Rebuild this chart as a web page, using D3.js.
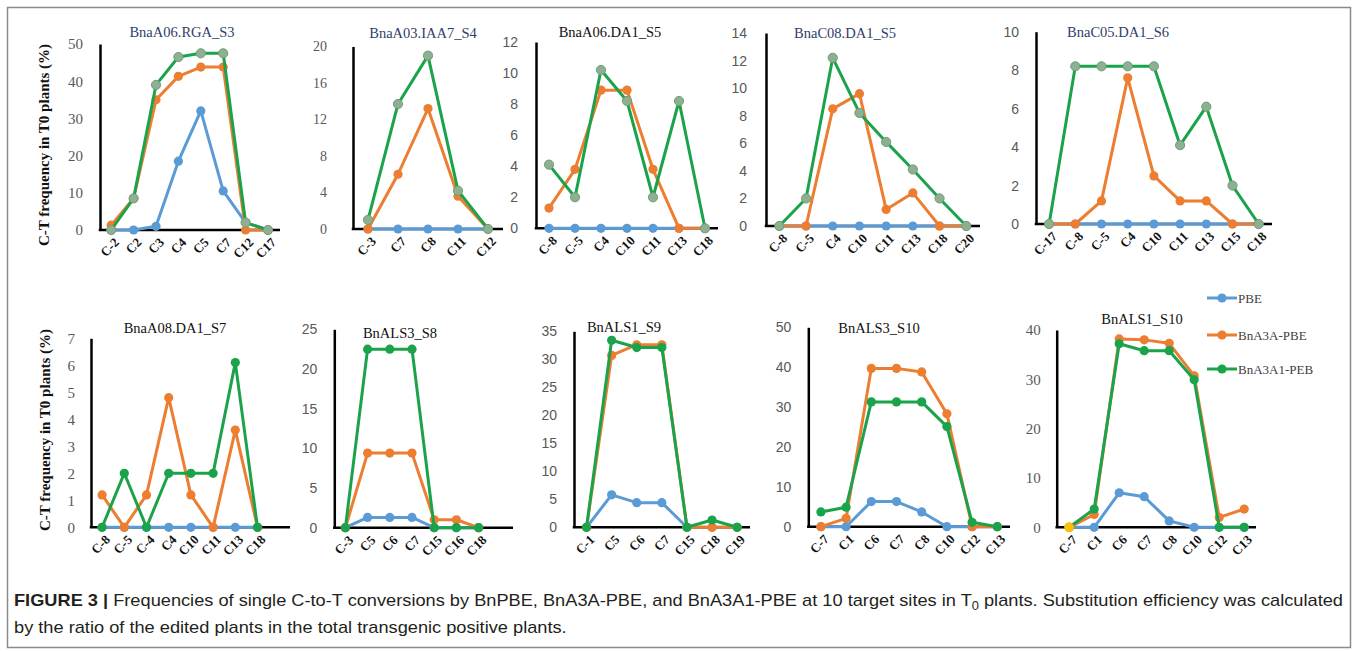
<!DOCTYPE html>
<html>
<head>
<meta charset="utf-8">
<script src="https://cdn.jsdelivr.net/npm/d3@7"></script>
<style>
  html, body { margin: 0; padding: 0; background: #fff; }
  svg { display: block; }
</style>
</head>
<body>
<script>
// ---------------- DATA ----------------
const seriesNames = ["PBE", "BnA3A-PBE", "BnA3A1-PEB"];

const S3_sites = ["C-2","C2","C3","C4","C5","C7","C12","C17"];
const S3_PBE   = [0, 0, 1.0, 18.5, 32.0, 10.5, 2.0, 0];
const S3_A3A   = [1.3, 8.5, 35.0, 41.3, 43.8, 43.8, 0, 0];
const S3_A3A1  = [0, 8.5, 39.0, 46.5, 47.5, 47.5, 2.0, 0];
const S3_ticks = [0, 10, 20, 30, 40, 50];

const S4_sites = ["C-3","C7","C8","C11","C12"];
const S4_PBE   = [0, 0, 0, 0, 0];
const S4_A3A   = [0, 6.0, 13.2, 3.6, 0];
const S4_A3A1  = [1.0, 13.7, 19.0, 4.2, 0];
const S4_ticks = [0, 4, 8, 12, 16, 20];

const S5a_sites = ["C-8","C-5","C4","C10","C11","C13","C18"];
const S5a_PBE   = [0, 0, 0, 0, 0, 0, 0];
const S5a_A3A   = [1.3, 3.8, 8.9, 8.9, 3.8, 0, 0];
const S5a_A3A1  = [4.1, 2.0, 10.2, 8.2, 2.0, 8.2, 0];
const S5a_ticks = [0, 2, 4, 6, 8, 10, 12];

const S5b_sites = ["C-8","C-5","C4","C10","C11","C13","C18","C20"];
const S5b_PBE   = [0, 0, 0, 0, 0, 0, 0, 0];
const S5b_A3A   = [0, 0, 8.5, 9.6, 1.2, 2.4, 0, 0];
const S5b_A3A1  = [0, 2.0, 12.2, 8.2, 6.1, 4.1, 2.0, 0];
const S5b_ticks = [0, 2, 4, 6, 8, 10, 12, 14];

const S6_sites = ["C-17","C-8","C-5","C4","C10","C11","C13","C15","C18"];
const S6_PBE   = [0, 0, 0, 0, 0, 0, 0, 0, 0];
const S6_A3A   = [0, 0, 1.2, 7.6, 2.5, 1.2, 1.2, 0, 0];
const S6_A3A1  = [0, 8.2, 8.2, 8.2, 8.2, 4.1, 6.1, 2.0, 0];
const S6_ticks = [0, 2, 4, 6, 8, 10];

const S7_sites = ["C-8","C-5","C-4","C4","C10","C11","C13","C18"];
const S7_PBE   = [0, 0, 0, 0, 0, 0, 0, 0];
const S7_A3A   = [1.2, 0, 1.2, 4.8, 1.2, 0, 3.6, 0];
const S7_A3A1  = [0, 2.0, 0, 2.0, 2.0, 2.0, 6.1, 0];
const S7_ticks = [0, 1, 2, 3, 4, 5, 6, 7];

const S8_sites = ["C-3","C5","C6","C7","C15","C16","C18"];
const S8_PBE   = [0, 1.3, 1.3, 1.3, 0, 0, 0];
const S8_A3A   = [0, 9.4, 9.4, 9.4, 1.0, 1.0, 0];
const S8_A3A1  = [0, 22.5, 22.5, 22.5, 0, 0, 0];
const S8_ticks = [0, 5, 10, 15, 20, 25];

const S9_sites = ["C-1","C5","C6","C7","C15","C18","C19"];
const S9_PBE   = [0, 5.8, 4.4, 4.4, 0, 0, 0];
const S9_A3A   = [0, 30.7, 32.6, 32.6, 0, 0, 0];
const S9_A3A1  = [0, 33.4, 32.1, 32.1, 0, 1.3, 0];
const S9_ticks = [0, 5, 10, 15, 20, 25, 30, 35];

const S10a_sites = ["C-7","C1","C6","C7","C8","C10","C12","C13"];
const S10a_PBE   = [0, 0, 6.3, 6.3, 3.7, 0, 0, 0];
const S10a_A3A   = [0, 2.1, 39.7, 39.7, 38.8, 28.3, 0, 0];
const S10a_A3A1  = [3.7, 4.9, 31.3, 31.3, 31.3, 25.1, 1.1, 0];
const S10a_ticks = [0, 10, 20, 30, 40, 50];

const S10b_sites = ["C-7","C1","C6","C7","C8","C10","C12","C13"];
const S10b_PBE   = [0, 0, 7.0, 6.2, 1.3, 0, 0, 0];
const S10b_A3A   = [0, 2.6, 38.2, 38.0, 37.3, 30.7, 2.0, 3.7];
const S10b_A3A1  = [0, 3.7, 37.2, 35.8, 35.8, 29.9, 0, 0];
const S10b_ticks = [0, 10, 20, 30, 40];

const titles = ["BnaA06.RGA_S3","BnaA03.IAA7_S4","BnaA06.DA1_S5","BnaC08.DA1_S5","BnaC05.DA1_S6",
                "BnaA08.DA1_S7","BnALS3_S8","BnALS1_S9","BnALS3_S10","BnALS1_S10"];

const yAxisLabel = "C-T frequency in T0 plants (%)";

const panels = [
  {sites: S3_sites,  vals: [S3_PBE,  S3_A3A,  S3_A3A1],  ticks: S3_ticks},
  {sites: S4_sites,  vals: [S4_PBE,  S4_A3A,  S4_A3A1],  ticks: S4_ticks},
  {sites: S5a_sites, vals: [S5a_PBE, S5a_A3A, S5a_A3A1], ticks: S5a_ticks},
  {sites: S5b_sites, vals: [S5b_PBE, S5b_A3A, S5b_A3A1], ticks: S5b_ticks},
  {sites: S6_sites,  vals: [S6_PBE,  S6_A3A,  S6_A3A1],  ticks: S6_ticks},
  {sites: S7_sites,  vals: [S7_PBE,  S7_A3A,  S7_A3A1],  ticks: S7_ticks},
  {sites: S8_sites,  vals: [S8_PBE,  S8_A3A,  S8_A3A1],  ticks: S8_ticks},
  {sites: S9_sites,  vals: [S9_PBE,  S9_A3A,  S9_A3A1],  ticks: S9_ticks},
  {sites: S10a_sites,vals: [S10a_PBE,S10a_A3A,S10a_A3A1],ticks: S10a_ticks},
  {sites: S10b_sites,vals: [S10b_PBE,S10b_A3A,S10b_A3A1],ticks: S10b_ticks}
];

// ---------------- LAYOUT / STYLE ----------------
const SERIF = "'Liberation Serif','Times New Roman',serif";
const SANS  = "'Liberation Sans',Arial,sans-serif";
const NAVY  = "#2f3d6c";
const colors = ["#5b9bd5", "#ed7d31", "#1ba34b"];
const grayGreenFill = "#8fb090";

const layout = [
  {ax:100,   step:22.4, xEnd:280,  yBase:230,   yTop:44,    tf:SERIF, ts:15, tpad:17, tx:182,  ty:37,  tc:NAVY,   gg:true},
  {ax:353,   step:30,   xEnd:503,  yBase:229,   yTop:46.5,  tf:SERIF, ts:14, tpad:26, tx:423,  ty:38,  tc:NAVY,   gg:true},
  {ax:536,   step:26,   xEnd:718,  yBase:228.3, yTop:42,    tf:SANS,  ts:14, tpad:18, tx:610,  ty:36.5,tc:"#111",gg:true},
  {ax:766,   step:26.7, xEnd:980,  yBase:226,   yTop:33,    tf:SANS,  ts:14, tpad:19, tx:845,  ty:38,  tc:NAVY,   gg:true},
  {ax:1036,  step:26.2, xEnd:1272, yBase:224,   yTop:31.7,  tf:SANS,  ts:14, tpad:17, tx:1118, ty:36.5,tc:NAVY,   gg:true},
  {ax:91,    step:22.2, xEnd:290,  yBase:527.3, yTop:338.3, tf:SERIF, ts:15, tpad:16, tx:175,  ty:333, tc:"#111", gg:false},
  {ax:334.3, step:22.2, xEnd:513,  yBase:527.7, yTop:329.3, tf:SANS,  ts:14, tpad:17, tx:400,  ty:338, tc:"#111", gg:false},
  {ax:574,   step:25.1, xEnd:750,  yBase:527.3, yTop:331.3, tf:SANS,  ts:14, tpad:17, tx:624,  ty:331.5,tc:"#111",gg:false},
  {ax:808.3, step:25.2, xEnd:1010, yBase:526.7, yTop:327.3, tf:SANS,  ts:14, tpad:17, tx:879,  ty:332.5,tc:"#111",gg:false},
  {ax:1056.7,step:25,   xEnd:1256, yBase:527.3, yTop:330,   tf:SERIF, ts:15, tpad:16, tx:1142, ty:324, tc:"#111", gg:false}
];

// a single highlighted marker visible in the reference (panel 10, PBE, C-7)
const highlight = {panel: 9, series: 0, index: 0, color: "#ffc000"};

// ---------------- DRAW ----------------
const W = 1357, H = 651;
const svg = d3.select("body").append("svg").attr("width", W).attr("height", H);

svg.append("rect").attr("x", 7.5).attr("y", 7.5).attr("width", 1343).attr("height", 640)
  .attr("fill", "none").attr("stroke", "#8a8a8a").attr("stroke-width", 1.5);

panels.forEach((p, i) => {
  const L = layout[i];
  const n = p.sites.length;
  const g = svg.append("g");
  const x = d3.scalePoint().domain(p.sites)
    .range([L.ax + L.step / 2, L.ax + L.step * (n - 0.5)]);
  const y = d3.scaleLinear().domain([0, d3.max(p.ticks)]).range([L.yBase, L.yTop]);

  // y axis
  const ya = g.append("g").attr("transform", `translate(${L.ax},0)`)
    .call(d3.axisLeft(y).tickValues(p.ticks).tickFormat(d3.format("d"))
      .tickSize(0).tickSizeOuter(0).tickPadding(L.tpad));
  ya.select(".domain").attr("stroke", "#000").attr("stroke-width", 2.5);
  ya.selectAll("text").attr("font-family", L.tf).attr("font-size", L.ts).attr("fill", "#595959");

  // x axis labels
  const xa = g.append("g").attr("transform", `translate(0,${L.yBase})`)
    .call(d3.axisBottom(x).tickSize(0));
  xa.select(".domain").remove();
  xa.selectAll("text")
    .attr("x", 0).attr("y", 0).attr("dy", "0.35em")
    .attr("transform", "translate(5,10) rotate(-45)")
    .attr("text-anchor", "end")
    .attr("font-family", SERIF).attr("font-weight", "bold")
    .attr("font-size", 13).attr("fill", "#111");

  // x axis line
  g.append("line").attr("x1", L.ax - 1.25).attr("x2", L.xEnd)
    .attr("y1", L.yBase).attr("y2", L.yBase)
    .attr("stroke", "#000").attr("stroke-width", 2.5);

  // series
  const line = d3.line().x((d, j) => x(p.sites[j])).y(d => y(d));
  p.vals.forEach((vals, s) => {
    g.append("path").datum(vals).attr("d", line)
      .attr("fill", "none").attr("stroke", colors[s]).attr("stroke-width", 3)
      .attr("stroke-linejoin", "round");
    g.selectAll(null).data(vals).enter().append("circle")
      .attr("cx", (d, j) => x(p.sites[j])).attr("cy", d => y(d)).attr("r", 4.6)
      .attr("fill", (s === 2 && L.gg) ? grayGreenFill : colors[s])
      .attr("stroke", (s === 2 && L.gg) ? "#6e9d78" : "none")
      .attr("stroke-width", 1);
  });

  if (highlight.panel === i) {
    const v = p.vals[highlight.series][highlight.index];
    g.append("circle").attr("cx", x(p.sites[highlight.index])).attr("cy", y(v))
      .attr("r", 4.8).attr("fill", highlight.color);
  }

  // title
  g.append("text").attr("x", L.tx).attr("y", L.ty).attr("text-anchor", "middle")
    .attr("font-family", SERIF).attr("font-size", 14.5).attr("fill", L.tc).text(titles[i]);
});

// y-axis labels (one per row)
[{cx: 49, cy: 145}, {cx: 50, cy: 430}].forEach(pos => {
  svg.append("text")
    .attr("transform", `translate(${pos.cx},${pos.cy}) rotate(-90)`)
    .attr("text-anchor", "middle")
    .attr("font-family", SERIF).attr("font-weight", "bold").attr("font-size", 15)
    .attr("fill", "#111").text(yAxisLabel);
});

// legend
const legY = [298, 335, 369];
seriesNames.forEach((name, s) => {
  const lg = svg.append("g");
  lg.append("line").attr("x1", 1207).attr("x2", 1237).attr("y1", legY[s]).attr("y2", legY[s])
    .attr("stroke", colors[s]).attr("stroke-width", 3);
  lg.append("circle").attr("cx", 1222).attr("cy", legY[s]).attr("r", 4.6).attr("fill", colors[s]);
  lg.append("text").attr("x", 1238).attr("y", legY[s] + 4.5)
    .attr("font-family", SERIF).attr("font-size", 13).attr("fill", "#404040").text(name);
});

// caption
const CAP_SIZE = 17;
const cap1 = svg.append("text").attr("x", 14).attr("y", 606)
  .attr("font-family", SANS).attr("font-size", CAP_SIZE).attr("fill", "#231f20");
cap1.append("tspan").attr("font-weight", "bold").text("FIGURE 3 | ");
cap1.append("tspan").text("Frequencies of single C-to-T conversions by BnPBE, BnA3A-PBE, and BnA3A1-PBE at 10 target sites in T");
cap1.append("tspan").attr("font-size", 12).attr("dy", 4).text("0");
cap1.append("tspan").attr("dy", -4).text(" plants. Substitution efficiency was calculated");
const nat1 = cap1.node().getComputedTextLength();
const ratio = 1329 / nat1;
cap1.attr("textLength", 1329).attr("lengthAdjust", "spacingAndGlyphs");

const cap2 = svg.append("text").attr("x", 14).attr("y", 633)
  .attr("font-family", SANS).attr("font-size", CAP_SIZE).attr("fill", "#231f20")
  .text("by the ratio of the edited plants in the total transgenic positive plants.");
const nat2 = cap2.node().getComputedTextLength();
cap2.attr("textLength", nat2 * ratio).attr("lengthAdjust", "spacingAndGlyphs");
</script>
</body>
</html>
